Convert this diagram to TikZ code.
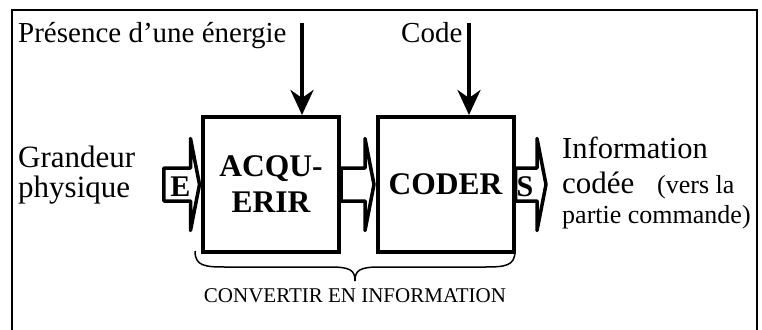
\documentclass[tikz,border=0pt]{standalone}
\usepackage{fontspec}
\setmainfont{Liberation Serif}
\usetikzlibrary{arrows.meta,calc}
\newcommand\blockarr[2]{%
  \draw[barr] let \p1=(#1), \p2=(#2) in
    (\x1,\y1+16.5pt) -- (\x2-9pt,\y1+16.5pt) -- (\x2-9pt,\y1+46pt) --
    (\x2,\y1) -- (\x2-9pt,\y1-46pt) -- (\x2-9pt,\y1-16.5pt) --
    (\x1,\y1-16.5pt) -- cycle;}
\begin{document}
\begin{tikzpicture}[x=1pt,y=-1pt,
  blk/.style={draw,line width=4pt,minimum width=136pt,minimum height=135pt,
    inner sep=0pt,align=center,font=\fontsize{31.5}{36}\selectfont\bfseries},
  barr/.style={draw,line width=3.5pt,fill=white,line join=round},
  varr/.style={line width=4pt,-{Stealth[length=25pt,width=23pt,inset=8pt]}},
  lbl/.style={inner sep=0pt,anchor=base west},
  io/.style={inner sep=0pt,anchor=base,font=\fontsize{30}{30}\selectfont\bfseries}]
\useasboundingbox (0,0) rectangle (762,329);
% frame
\draw[line width=2pt] (12,335) -- (12,10) -- (757,10) -- (757,335);
% blocks
\node[blk] (acq) at (271,184.5) {ACQU-\\ERIR};
\node[blk] (cod) at (445.5,184.5) {CODER};
% block arrows
\coordinate (ein) at (163.75,184.5);
\coordinate (sout) at (546,184.5);
\blockarr{ein}{$(acq.west)+(-1.5,0)$}
\blockarr{acq.east}{$(cod.west)+(-1.5,0)$}
\blockarr{cod.east}{sout}
\node[io] (e) at (180.5,196) {E};
\node[io] (s) at (525,196.5) {S};
% vertical arrows
\coordinate (pe) at (302,23);
\coordinate (pc) at (469,23);
\draw[varr] (pe) -- (pe |- acq.north);
\draw[varr] (pc) -- (pc |- cod.north);
% labels
\node[lbl,font=\fontsize{29}{29}\selectfont] (pres) at (18,43) {Présence d’une énergie};
\node[lbl,font=\fontsize{29}{29}\selectfont] (code) at (401,43) {Code};
\node[lbl,font=\fontsize{31}{31}\selectfont] (gr) at (18,167) {Grandeur};
\node[lbl,font=\fontsize{31}{31}\selectfont] (ph) at (18,197) {physique};
\node[lbl,font=\fontsize{30.5}{30.5}\selectfont] (inf) at (562,158) {Information};
\node[lbl,font=\fontsize{31}{31}\selectfont] (cd) at (562,193) {codée};
\node[lbl,font=\fontsize{26}{26}\selectfont] (vl) at (657,193) {(vers la};
\node[lbl,font=\fontsize{26}{26}\selectfont] (pc2) at (562,223) {partie commande)};
% brace
\draw[line width=1.5pt] (195,251) .. controls (195,266) and (205,267) .. (225,267)
  -- (330,267) .. controls (350,267) and (355,270) .. (355,281)
  .. controls (355,270) and (360,267) .. (380,267)
  -- (485,267) .. controls (505,267) and (515,266) .. (515,251);
\node[inner sep=0pt,anchor=base,font=\fontsize{21}{21}\selectfont] (conv) at (355,302) {CONVERTIR EN INFORMATION};
\end{tikzpicture}
\end{document}
